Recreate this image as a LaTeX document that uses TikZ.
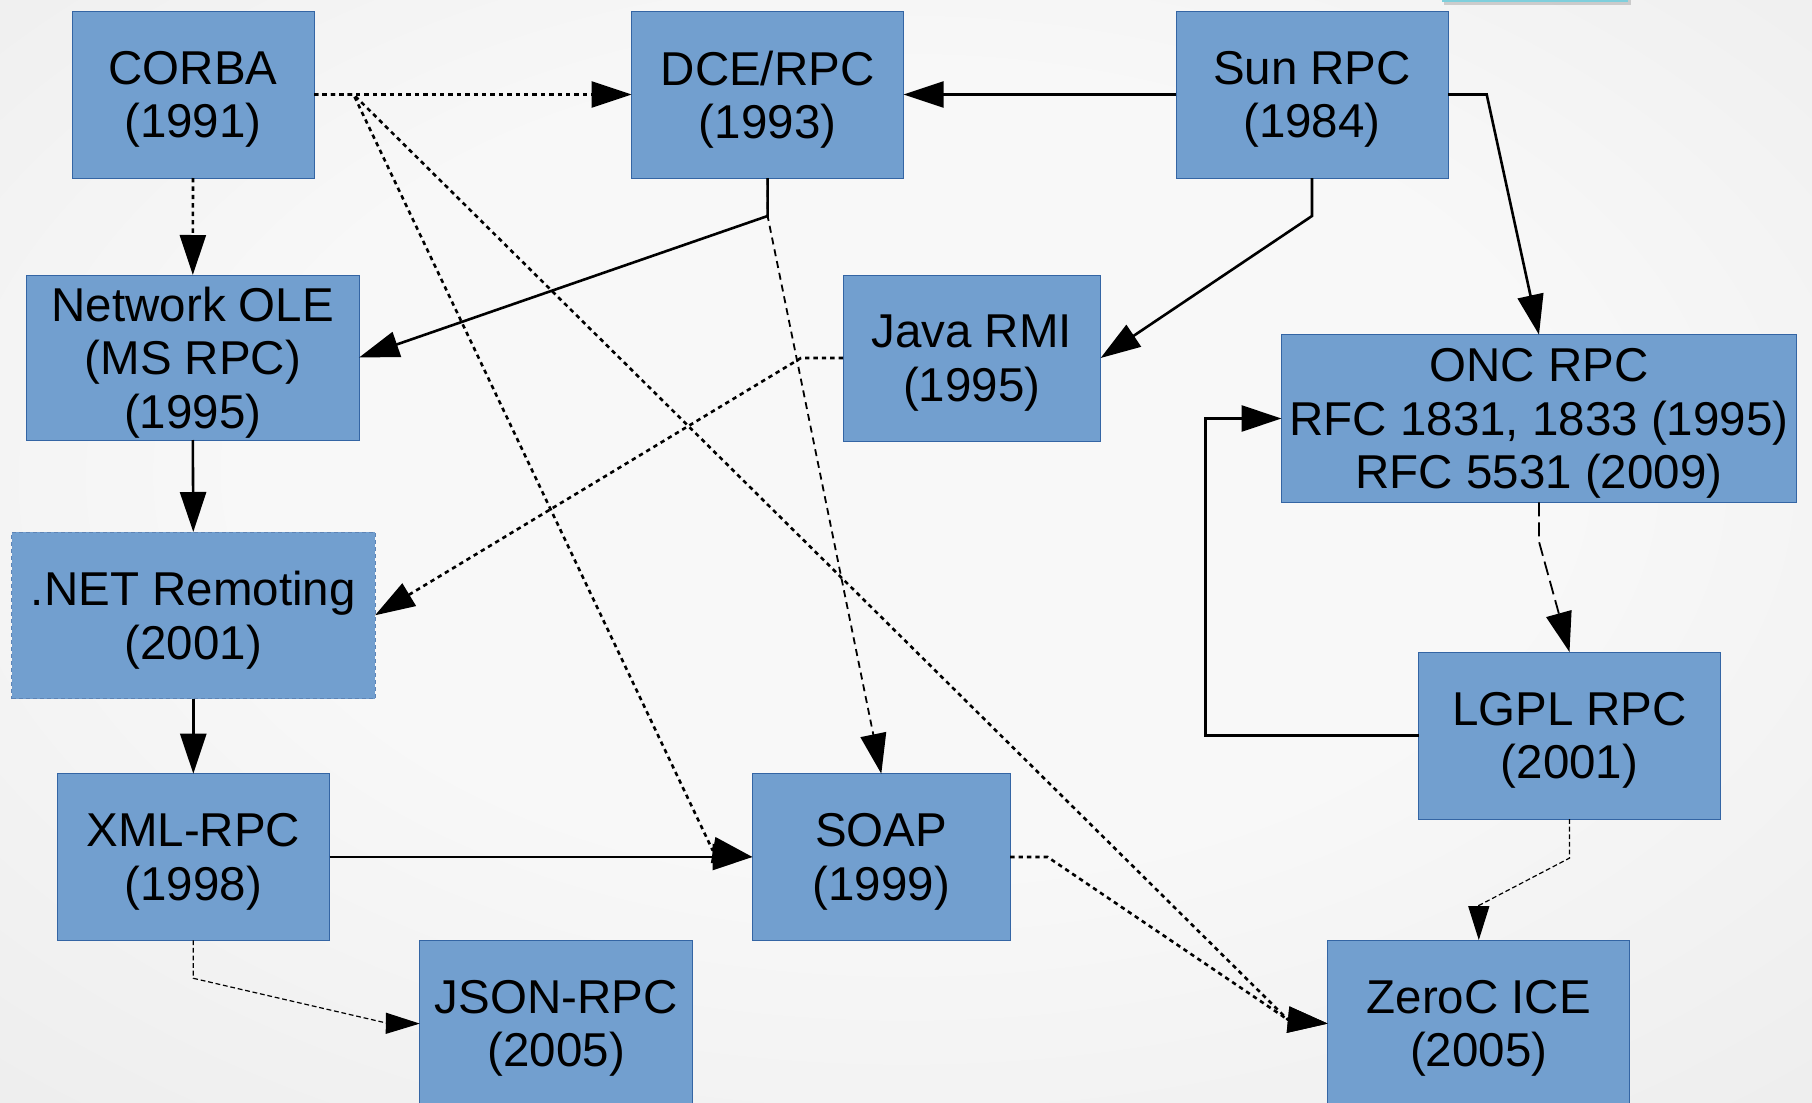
\documentclass[tikz,border=0pt]{standalone}
\usepackage{fontspec}
\setmainfont{Liberation Sans}
\usetikzlibrary{arrows.meta,calc}
\definecolor{boxfill}{HTML}{729FCF}
\definecolor{boxline}{HTML}{3465A4}
\definecolor{bgin}{HTML}{F8F8F8}
\definecolor{bgout}{HTML}{DCDCDC}
\definecolor{stripcol}{HTML}{7FCFDC}
\pgfdeclareradialshading{bgshade}{\pgfpoint{0bp}{5bp}}{color(0bp)=(bgin); color(18bp)=(bgin); color(70bp)=(bgout)}
\begin{document}
\begin{tikzpicture}[x=0.5pt,y=-0.5pt,
  box/.style={draw=boxline, line width=0.5pt, fill=boxfill, inner sep=0pt, outer sep=0pt,
    align=center, text=black, text depth=0pt, font=\fontsize{23.75pt}{26.7pt}\selectfont},
  bigtip/.style={-{Triangle[length=20pt,width=13pt]}},
  smalltip/.style={-{Triangle[length=17pt,width=10.5pt]}},
  solidarrow/.style={bigtip, line width=1.3pt},
  dotarrow/.style={bigtip, line width=1.3pt, dash pattern=on 2.2pt off 2pt},
  dasharrow/.style={bigtip, line width=0.9pt, dash pattern=on 3.5pt off 2.5pt},
  longdasharrow/.style={bigtip, line width=0.9pt, dash pattern=on 7pt off 3pt},
  thinarrow/.style={smalltip, line width=0.6pt, dash pattern=on 2.4pt off 1.4pt}
]
\useasboundingbox (0,0) rectangle (1812,1103);
\shade[shading=bgshade] (0,0) rectangle (1812,1103);
% strip at top right
\fill[black!35, opacity=0.5] (1444,-3) rectangle (1631,5);
\fill[stripcol] (1442,-5) rectangle (1628,2);

% nodes
\node[box, minimum width=121pt, minimum height=83.5pt] (corba) at (193,94.5) {CORBA\\(1991)};
\node[box, minimum width=136pt, minimum height=83.5pt] (dce) at (767.6,94.5) {DCE/RPC\\(1993)};
\node[box, minimum width=136pt, minimum height=83.5pt] (sun) at (1312,94.5) {Sun RPC\\(1984)};
\node[box, minimum width=166.3pt, minimum height=82.5pt] (ole) at (192.8,357.5) {Network OLE\\(MS RPC)\\(1995)};
\node[box, minimum width=128.8pt, minimum height=83pt] (java) at (971.8,358) {Java RMI\\(1995)};
\node[box, minimum width=257.5pt, minimum height=83.8pt] (onc) at (1539,418.5) {ONC RPC\\RFC 1831, 1833 (1995)\\RFC 5531 (2009)};
\node[box, draw=boxline!80, dash pattern=on 2pt off 1.5pt, minimum width=181.7pt, minimum height=83.3pt] (net) at (193.3,615.3) {.NET Remoting\\(2001)};
\node[box, minimum width=151pt, minimum height=83.5pt] (lgpl) at (1569.5,735.6) {LGPL RPC\\(2001)};
\node[box, minimum width=136.3pt, minimum height=83.3pt] (xml) at (193.3,857) {XML-RPC\\(1998)};
\node[box, minimum width=128.8pt, minimum height=83.3pt] (soap) at (881.3,857) {SOAP\\(1999)};
\node[box, minimum width=136.5pt, minimum height=83.5pt] (json) at (556.3,1023.6) {JSON-RPC\\(2005)};
\node[box, minimum width=151pt, minimum height=83.5pt] (zeroc) at (1478.8,1023.6) {ZeroC ICE\\(2005)};

% connectors
\draw[dotarrow] (corba.east) -- (dce.west);
\draw[dotarrow] (corba.south) -- (ole.north);
\draw[dotarrow] (corba.east) -- ++(39.5,0) -- ($(soap.west)+(-40,-7)$) -- (soap.west);
\draw[dotarrow] (corba.east) -- ++(39.5,0) -- ($(zeroc.west)+(-40,-4)$) -- (zeroc.west);
\draw[dotarrow] (soap.east) -- ++(37.5,0) -- ($(zeroc.west)+(-40,-4)$) -- (zeroc.west);
\draw[dotarrow] (java.west) -- ++(-42,0) -- (net.east);

\draw[solidarrow] (sun.west) -- (dce.east);
\draw[solidarrow] (dce.south) -- ++(0,38) -- (ole.east);
\draw[dasharrow] (dce.south) -- ++(0,38) -- (soap.north);
\draw[solidarrow] (sun.south) -- ++(0,38) -- (java.east);
\draw[solidarrow] (sun.east) -- ++(38.7,0) -- (onc.north);
\draw[longdasharrow] (onc.south) -- ++(0,39.4) -- (lgpl.north);
\draw[solidarrow] (lgpl.west) -- ++(-213,0) |- (onc.west);
\draw[thinarrow] (lgpl.south) -- ++(0,39) -- ++(-90.7,47.4) -- (zeroc.north);
\draw[solidarrow] (ole.south) -- (net.north);
\draw[solidarrow] (net.south) -- (xml.north);
\draw[solidarrow] (xml.east) -- (soap.west);
\draw[thinarrow] (xml.south) -- ++(0,38) -- ++(194.4,45) -- (json.west);
\end{tikzpicture}
\end{document}
